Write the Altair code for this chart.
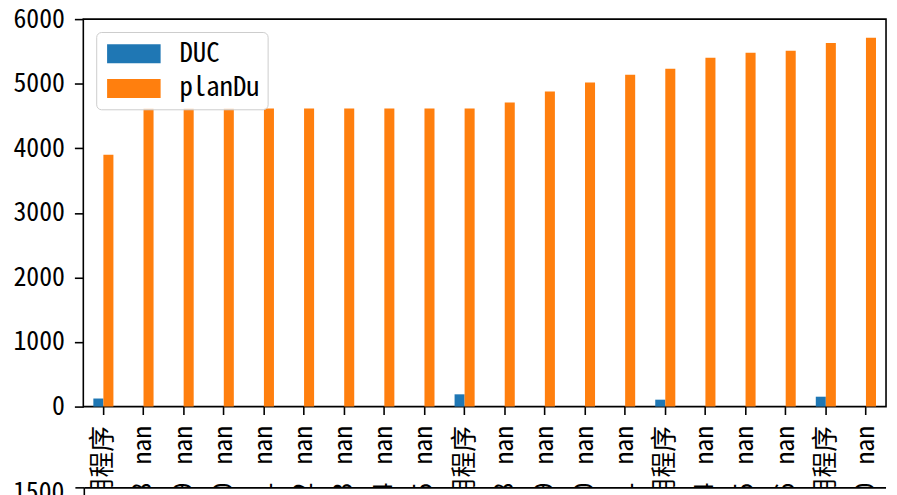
import json
import altair as alt
import pandas as pd

# ---- data ----
positions = list(range(20))
GAP = "\u00a0\u2009"
tick_labels = [
    "应用程序", "8" + GAP + "nan", "9" + GAP + "nan", "0" + GAP + "nan", "1" + GAP + "nan",
    "2" + GAP + "nan", "3" + GAP + "nan", "4" + GAP + "nan", "5" + GAP + "nan", "应用程序",
    "8" + GAP + "nan", "9" + GAP + "nan", "0" + GAP + "nan", "1" + GAP + "nan", "应用程序",
    "4" + GAP + "nan", "5" + GAP + "nan", "6" + GAP + "nan", "应用程序", "0" + GAP + "nan",
]
series_names = ["DUC", "planDu"]
duc_values = [125, None, None, None, None, None, None, None, None, 190,
              None, None, None, None, 107, None, None, None, 153, None]
plandu_values = [3900, 4615, 4615, 4615, 4615, 4615, 4615, 4615, 4615, 4615,
                 4710, 4880, 5020, 5140, 5230, 5400, 5480, 5510, 5630, 5710]
y_ticks = [0, 1000, 2000, 3000, 4000, 5000, 6000]
second_panel_ticks = ["1500"]
colors = ["#1f77b4", "#ff7f0e"]

rows = []
for i in positions:
    rows.append({"pos": i, "series": "DUC", "value": duc_values[i]})
    rows.append({"pos": i, "series": "planDu", "value": plandu_values[i]})
df = pd.DataFrame(rows)

FONT = "Noto Sans Mono CJK SC, Noto Sans CJK SC, DejaVu Sans Mono, sans-serif"
label_expr = json.dumps(tick_labels, ensure_ascii=False) + "[datum.value]"
# wide, flat legend swatch (54 x 19 px at symbolSize 784)
legend_shape = "M-1.929,-0.679L1.929,-0.679L1.929,0.679L-1.929,0.679Z"

bars = alt.Chart(df).mark_bar().encode(
    x=alt.X(
        "pos:O",
        scale=alt.Scale(paddingInner=0, paddingOuter=0),
        axis=alt.Axis(
            title=None, labelExpr=label_expr, labelAngle=270, labelFont=FONT,
            labelFontSize=26, labelColor="black", tickColor="black", tickSize=8,
            tickWidth=1.6, labelPadding=11, domain=False, labelOverlap=False,
            labelLimit=400, zindex=0,
        ),
    ),
    xOffset=alt.XOffset(
        "series:N", scale=alt.Scale(domain=series_names, paddingInner=0, paddingOuter=1)
    ),
    y=alt.Y(
        "value:Q",
        scale=alt.Scale(domain=[0, 6000], nice=False),
        axis=alt.Axis(
            title=None, values=y_ticks, format="d", labelFont=FONT, labelFontSize=26,
            labelColor="black", tickColor="black", tickSize=9, tickWidth=1.6,
            labelPadding=10, domain=False, grid=False, zindex=0,
        ),
    ),
    color=alt.Color(
        "series:N",
        scale=alt.Scale(domain=series_names, range=colors),
        legend=alt.Legend(
            title=None, orient="none", legendX=13, legendY=13,
            symbolType=legend_shape, symbolSize=784, symbolStrokeWidth=0,
            symbolOpacity=1, symbolOffset=16, labelFont=FONT, labelFontSize=27,
            labelColor="black", labelOffset=32, rowPadding=8, padding=8,
            fillColor="rgba(255,255,255,0.8)", strokeColor="#cccccc", cornerRadius=5,
        ),
    ),
)

# the top edge of the second (clipped) panel below
panel_df = pd.DataFrame({"tick": second_panel_ticks})
cover = alt.Chart(panel_df).mark_rect(color="white").encode(
    x=alt.value(-80), x2=alt.value(815), y=alt.value(473), y2=alt.value(520)
)
top_edge = alt.Chart(panel_df).mark_rule(color="black", strokeWidth=1.6).encode(
    x=alt.value(1), x2=alt.value(810), y=alt.value(473)
)
left_edge = alt.Chart(panel_df).mark_rule(color="black", strokeWidth=1.6).encode(
    x=alt.value(1), y=alt.value(473), y2=alt.value(520)
)
tick_mark = alt.Chart(panel_df).mark_rule(color="black", strokeWidth=1.6).encode(
    x=alt.value(-8), x2=alt.value(1), y=alt.value(473)
)
tick_text = alt.Chart(panel_df).mark_text(
    align="right", baseline="middle", font=FONT, fontSize=26, color="black"
).encode(x=alt.value(-19), y=alt.value(478), text="tick:N")

chart = alt.layer(bars, cover, top_edge, left_edge, tick_mark, tick_text).properties(
    width=810,
    height=391,
    autosize=alt.AutoSizeParams(type="none"),
    padding={"left": 76, "top": 9, "right": 3, "bottom": 87},
    background="white",
).configure_view(stroke="black", strokeWidth=1.6)

chart.save("out.html", embed_options={"renderer": "svg", "actions": False})
